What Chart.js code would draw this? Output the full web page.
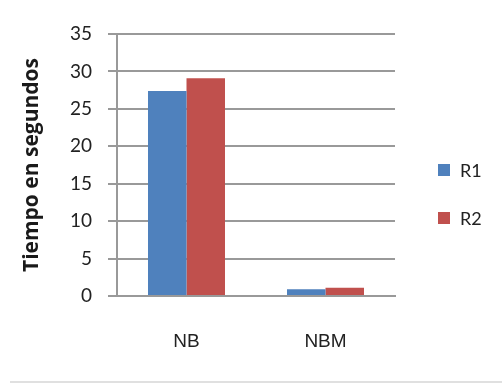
<!DOCTYPE html>
<html>
<head>
<meta charset="utf-8">
<script src="https://cdn.jsdelivr.net/npm/chart.js@4/dist/chart.umd.min.js"></script>
<style>
  html, body { margin: 0; padding: 0; background: #ffffff; }
  #wrap { width: 502px; height: 384px; }
</style>
</head>
<body>
<div id="wrap"><canvas id="c" width="502" height="384"></canvas></div>
<script>
// Tiempo de ejecución por algoritmo (segundos)
const categories = ['NB', 'NBM'];
const seriesNames = ['R1', 'R2'];
const r1Values = [27.4, 0.9];
const r2Values = [29.1, 1.1];
const yTicks = [0, 5, 10, 15, 20, 25, 30, 35];
const yTitle = 'Tiempo en segundos';

const colors = ['#4F81BD', '#C0504D'];
const gridColor = '#999999';

// White page with a faint rule along the bottom edge
const backdrop = {
  id: 'backdrop',
  beforeDraw(chart) {
    const ctx = chart.ctx;
    ctx.save();
    ctx.fillStyle = '#ffffff';
    ctx.fillRect(0, 0, chart.width, chart.height);
    ctx.fillStyle = '#e0e0e0';
    ctx.fillRect(10, chart.height - 3, chart.width - 10, 2);
    ctx.restore();
  }
};

// Legend at the right, one square marker per series
const sideLegend = {
  id: 'sideLegend',
  afterDraw(chart) {
    const ctx = chart.ctx;
    ctx.save();
    ctx.font = '18px Lato, "Open Sans", sans-serif';
    ctx.textBaseline = 'middle';
    ctx.textAlign = 'left';
    chart.data.datasets.forEach((ds, i) => {
      const cy = 170 + i * 48;
      ctx.fillStyle = ds.backgroundColor;
      ctx.fillRect(438, cy - 6, 12, 12);
      ctx.fillStyle = '#222222';
      ctx.fillText(ds.label, 460, cy + 1);
    });
    ctx.restore();
  }
};

new Chart(document.getElementById('c'), {
  type: 'bar',
  data: {
    labels: categories,
    datasets: [
      { label: seriesNames[0], data: r1Values, backgroundColor: colors[0] },
      { label: seriesNames[1], data: r2Values, backgroundColor: colors[1] }
    ]
  },
  options: {
    responsive: false,
    animation: false,
    devicePixelRatio: 1,
    layout: { padding: { top: 34, right: 107, bottom: 0, left: 0 } },
    datasets: {
      bar: { categoryPercentage: 0.554, barPercentage: 1.0, borderWidth: 0 }
    },
    plugins: {
      legend: { display: false },
      tooltip: { enabled: false },
      title: { display: false }
    },
    scales: {
      x: {
        grid: { display: false, drawTicks: false },
        border: { display: true, color: gridColor, width: 2 },
        ticks: {
          padding: 34,
          color: '#222222',
          font: { family: '"Liberation Sans", Arial, sans-serif', size: 19 }
        },
        afterFit(scale) { scale.height = 88; }
      },
      y: {
        min: 0,
        max: 35,
        afterBuildTicks(scale) { scale.ticks = yTicks.map(v => ({ value: v })); },
        grid: {
          color: gridColor,
          lineWidth: 2,
          drawTicks: true,
          tickLength: 9,
          tickColor: gridColor
        },
        border: { display: true, color: gridColor, width: 2 },
        ticks: {
          padding: 16,
          color: '#222222',
          font: { family: 'Lato, "Open Sans", sans-serif', size: 19 }
        },
        title: {
          display: true,
          text: yTitle,
          color: '#1a1a1a',
          padding: { top: 19, bottom: 0 },
          font: { family: '"Open Sans", Lato, sans-serif', size: 21, weight: 'bold' }
        },
        afterFit(scale) { scale.width = 117; }
      }
    }
  },
  plugins: [backdrop, sideLegend]
});
</script>
</body>
</html>
